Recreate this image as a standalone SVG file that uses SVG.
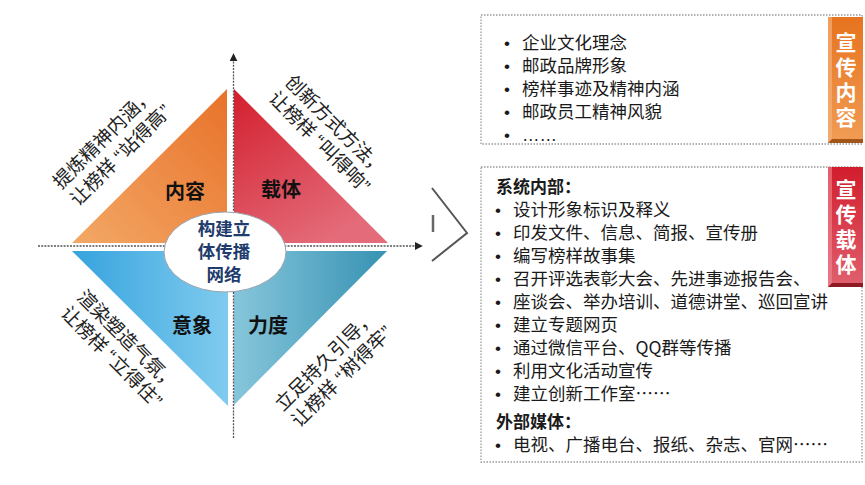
<svg xmlns="http://www.w3.org/2000/svg" width="865" height="485" viewBox="0 0 865 485">
<defs>
<linearGradient id="gOrange" x1="1" y1="0" x2="0" y2="1"><stop offset="0" stop-color="#E8722A"/><stop offset="1" stop-color="#F3A866"/></linearGradient>
<linearGradient id="gRed" x1="0" y1="0" x2="0.6" y2="1"><stop offset="0" stop-color="#D31F2E"/><stop offset="1" stop-color="#E46C7A"/></linearGradient>
<linearGradient id="gBlue" x1="0" y1="0" x2="1" y2="0"><stop offset="0" stop-color="#36A3DE"/><stop offset="1" stop-color="#80CBEE"/></linearGradient>
<linearGradient id="gTeal" x1="0" y1="0" x2="1" y2="0"><stop offset="0" stop-color="#86C6DB"/><stop offset="1" stop-color="#3792B3"/></linearGradient>
<linearGradient id="gTabO" x1="0" y1="0" x2="0" y2="1"><stop offset="0" stop-color="#E7731F"/><stop offset="1" stop-color="#F09C55"/></linearGradient>
<linearGradient id="gTabR" x1="0" y1="0" x2="0" y2="1"><stop offset="0" stop-color="#D21D2D"/><stop offset="1" stop-color="#E0606E"/></linearGradient>
<marker id="arr" viewBox="0 0 10 10" refX="9" refY="5" markerWidth="8" markerHeight="8" markerUnits="userSpaceOnUse" orient="auto"><path d="M0,0 L10,5 L0,10 z" fill="#222"/></marker>
</defs>
<style>
.cjk{font-family:"Noto Sans CJK SC","Noto Sans",sans-serif;}
.q{font-family:"Liberation Sans",sans-serif;}
.axis{stroke:#555;stroke-width:1.3;stroke-dasharray:2,1.2;fill:none;}
.lbl{font-size:20px;font-weight:bold;fill:#111;text-anchor:middle;}
.diag{font-size:19px;fill:#222;}
.item{font-size:17.5px;fill:#1a1a1a;}
.bul{font-family:"Liberation Sans",sans-serif;font-size:17px;fill:#1a1a1a;}
.head{font-size:17px;font-weight:bold;fill:#1a1a1a;}
.tab{font-size:21px;font-weight:bold;fill:#fff;text-anchor:middle;writing-mode:vertical-rl;letter-spacing:4px;}
.box{fill:none;stroke:#999;stroke-width:1.3;stroke-dasharray:1.5,1.5;}
</style>
<rect width="865" height="485" fill="#fff"/>

<g id="quad-content">
<polygon points="72,243 227,89 227,243" fill="url(#gOrange)"/>
<text class="cjk lbl" x="185" y="199">内容</text>
<g transform="translate(61,190) rotate(-45)"><text class="cjk diag" x="0" y="0">提炼精神内涵，</text><text class="cjk diag" x="0" y="24">让榜样<tspan class="q" dx="5">“</tspan><tspan dx="1">站得高</tspan><tspan class="q" dx="1">”</tspan></text></g>
</g>
<g id="quad-carrier">
<polygon points="234,89 234,243 388,243" fill="url(#gRed)"/>
<text class="cjk lbl" x="281" y="197">载体</text>
<g transform="translate(284,83) rotate(45)"><text class="cjk diag" x="0" y="0">创新方式方法，</text><text class="cjk diag" x="0" y="23">让榜样<tspan class="q" dx="5">“</tspan><tspan dx="1">叫得响</tspan><tspan class="q" dx="1">”</tspan></text></g>
</g>
<g id="quad-image">
<polygon points="72,251 228,251 228,406" fill="url(#gBlue)"/>
<text class="cjk lbl" x="192" y="333">意象</text>
<g transform="translate(76,298) rotate(45)"><text class="cjk diag" x="0" y="0">渲染塑造气氛，</text><text class="cjk diag" x="0" y="23">让榜样<tspan class="q" dx="5">“</tspan><tspan dx="1">立得住</tspan><tspan class="q" dx="1">”</tspan></text></g>
</g>
<g id="quad-strength">
<polygon points="234,251 387,251 234,405" fill="url(#gTeal)"/>
<text class="cjk lbl" x="268" y="333">力度</text>
<g transform="translate(283,412) rotate(-45)"><text class="cjk diag" x="0" y="0">立足持久引导，</text><text class="cjk diag" x="0" y="23">让榜样<tspan class="q" dx="5">“</tspan><tspan dx="1">树得牢</tspan><tspan class="q" dx="1">”</tspan></text></g>
</g>

<g id="connectors">
<line class="axis" x1="38" y1="246" x2="422" y2="246" marker-end="url(#arr)"/>
<line class="axis" x1="233.5" y1="438" x2="233.5" y2="54" marker-end="url(#arr)"/>
<polyline points="432,188 467,233 432,261" fill="none" stroke="#555" stroke-width="2"/>
<line x1="433" y1="215" x2="433" y2="232" stroke="#666" stroke-width="2.5"/>
</g>

<g id="center">
<ellipse cx="225" cy="252" rx="61" ry="40" fill="#fff" stroke="#9aa3ad" stroke-width="1"/>
<text class="cjk" x="224" y="235" font-size="17.5" font-weight="bold" fill="#1F3C6C" text-anchor="middle">构建立</text>
<text class="cjk" x="224" y="258" font-size="17.5" font-weight="bold" fill="#1F3C6C" text-anchor="middle">体传播</text>
<text class="cjk" x="224" y="281" font-size="17.5" font-weight="bold" fill="#1F3C6C" text-anchor="middle">网络</text>
</g>

<g id="box-content">
<rect class="box" x="481" y="15" width="381" height="129"/>
<rect x="828" y="17" width="35" height="126" fill="url(#gTabO)"/>
<rect x="828" y="17" width="4" height="126" fill="#F4B07A" opacity="0.7"/>
<polygon points="828,143 863,143 863,139 832,139" fill="#A35518"/>
<text class="cjk tab" x="846" y="82">宣传内容</text>
<g class="cjk">
<text class="bul" x="504" y="49">•</text><text class="item" x="522" y="49">企业文化理念</text>
<text class="bul" x="504" y="72">•</text><text class="item" x="522" y="72">邮政品牌形象</text>
<text class="bul" x="504" y="95">•</text><text class="item" x="522" y="95">榜样事迹及精神内涵</text>
<text class="bul" x="504" y="118">•</text><text class="item" x="522" y="118">邮政员工精神风貌</text>
<text class="bul" x="504" y="141">•</text><text class="item" x="522" y="141" font-family="Liberation Sans,sans-serif">……</text>
</g>
</g>

<g id="box-carrier">
<rect class="box" x="481" y="167" width="381" height="295"/>
<rect x="828" y="167" width="35" height="120" fill="url(#gTabR)"/>
<rect x="828" y="167" width="4" height="120" fill="#EE8A95" opacity="0.6"/>
<polygon points="828,287 863,287 863,283 832,283" fill="#8E1A24"/>
<text class="cjk tab" x="846" y="229">宣传载体</text>
<g class="cjk">
<text class="head" x="496" y="193">系统内部：</text>
<text class="bul" x="495" y="216">•</text><text class="item" x="513" y="216">设计形象标识及释义</text>
<text class="bul" x="495" y="239">•</text><text class="item" x="513" y="239">印发文件、信息、简报、宣传册</text>
<text class="bul" x="495" y="262">•</text><text class="item" x="513" y="262">编写榜样故事集</text>
<text class="bul" x="495" y="285">•</text><text class="item" x="513" y="285">召开评选表彰大会、先进事迹报告会、</text>
<text class="bul" x="495" y="308">•</text><text class="item" x="513" y="308">座谈会、举办培训、道德讲堂、巡回宣讲</text>
<text class="bul" x="495" y="331">•</text><text class="item" x="513" y="331">建立专题网页</text>
<text class="bul" x="495" y="354">•</text><text class="item" x="513" y="354">通过微信平台、QQ群等传播</text>
<text class="bul" x="495" y="377">•</text><text class="item" x="513" y="377">利用文化活动宣传</text>
<text class="bul" x="495" y="400">•</text><text class="item" x="513" y="400">建立创新工作室……</text>
<text class="head" x="496" y="428">外部媒体：</text>
<text class="bul" x="495" y="451">•</text><text class="item" x="513" y="451">电视、广播电台、报纸、杂志、官网……</text>
</g>
</g>
</svg>
